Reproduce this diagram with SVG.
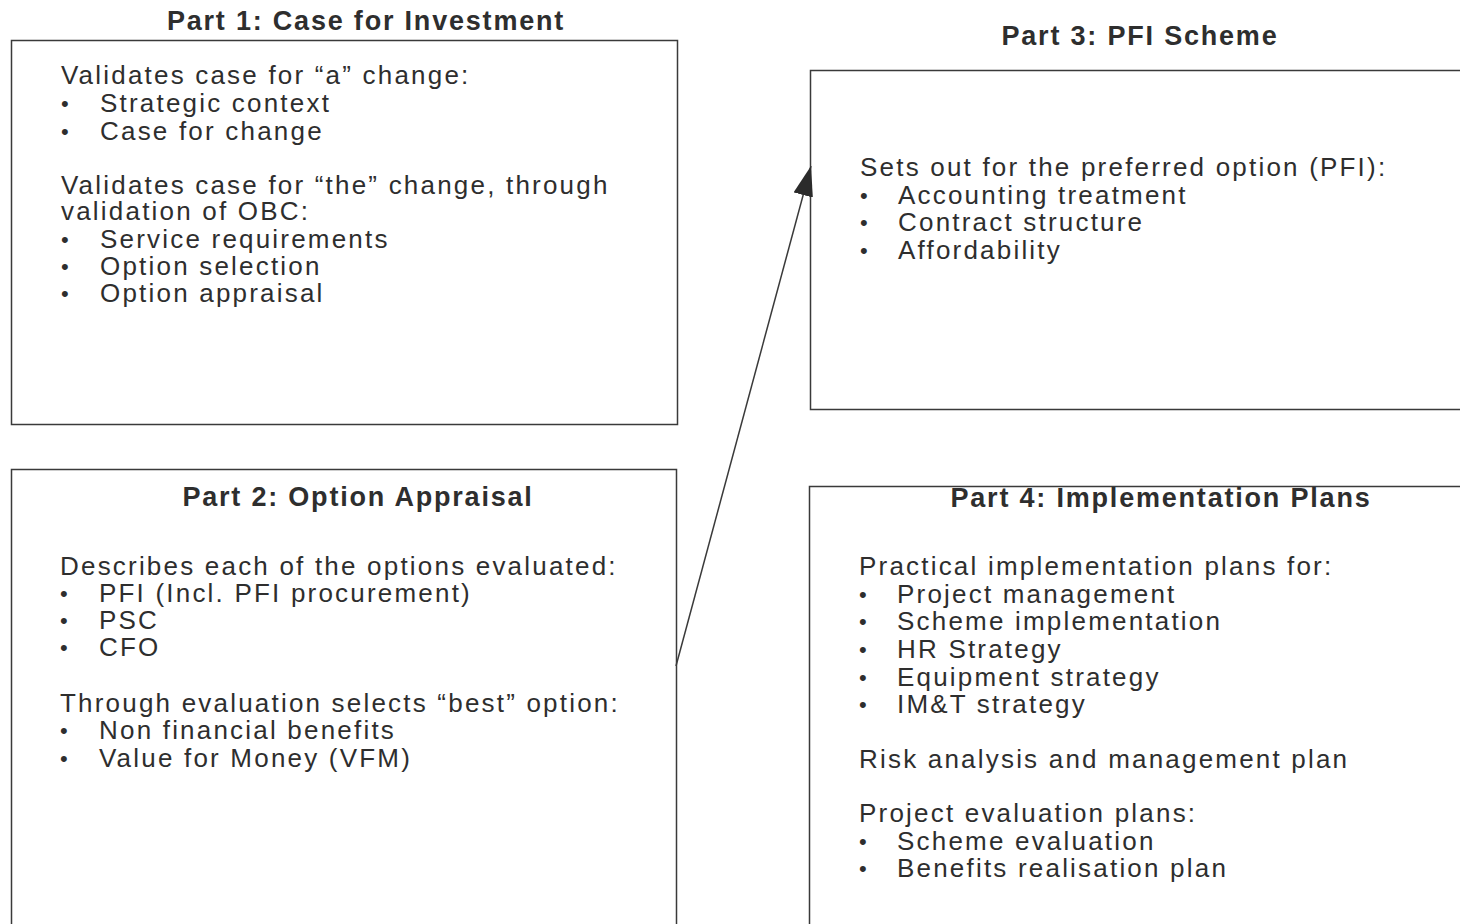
<svg xmlns="http://www.w3.org/2000/svg" width="1460" height="924" viewBox="0 0 1460 924">
<style>
.box{fill:none;stroke:#3a3a3a;stroke-width:1.5}
.t{font-family:"Liberation Sans",Arial,sans-serif;font-size:26px;fill:#2e2e2e;letter-spacing:2.2px}
.h{font-family:"Liberation Sans",Arial,sans-serif;font-size:27px;font-weight:bold;fill:#2e2e2e;letter-spacing:1.8px;text-anchor:middle}
.b{font-family:"Liberation Sans",Arial,sans-serif;font-size:22px;fill:#2e2e2e}
.conn{stroke:#3a3a3a;stroke-width:1.5;fill:none}
</style>
<defs>
<marker id="arr" viewBox="0 0 30 20" refX="30" refY="10" markerWidth="30" markerHeight="20" markerUnits="userSpaceOnUse" orient="auto">
<path d="M0,0 L30,10 L0,20 z" fill="#2b2b2b"/>
</marker>
</defs>
<rect width="1460" height="924" fill="#ffffff"/>

<g id="part1">
<rect class="box" x="11.5" y="40.5" width="666" height="384"/>
<text class="h" x="366" y="30">Part 1: Case for Investment</text>
<text class="t" x="61" y="84">Validates case for “a” change:</text>
<text class="b" x="61" y="111">•</text><text class="t" x="100" y="112">Strategic context</text>
<text class="b" x="61" y="139">•</text><text class="t" x="100" y="140">Case for change</text>
<text class="t" x="61" y="194">Validates case for “the” change, through</text>
<text class="t" x="61" y="220">validation of OBC:</text>
<text class="b" x="61" y="247">•</text><text class="t" x="100" y="248">Service requirements</text>
<text class="b" x="61" y="274">•</text><text class="t" x="100" y="275">Option selection</text>
<text class="b" x="61" y="301">•</text><text class="t" x="100" y="302">Option appraisal</text>
</g>

<g id="part2">
<path class="box" d="M11.5,930 V469.5 H676.5 V930"/>
<text class="h" x="358" y="506">Part 2: Option Appraisal</text>
<text class="t" x="60" y="575">Describes each of the options evaluated:</text>
<text class="b" x="60" y="601">•</text><text class="t" x="99" y="602">PFI (Incl. PFI procurement)</text>
<text class="b" x="60" y="628">•</text><text class="t" x="99" y="629">PSC</text>
<text class="b" x="60" y="655">•</text><text class="t" x="99" y="656">CFO</text>
<text class="t" x="60" y="712">Through evaluation selects “best” option:</text>
<text class="b" x="60" y="738">•</text><text class="t" x="99" y="739">Non financial benefits</text>
<text class="b" x="60" y="766">•</text><text class="t" x="99" y="767">Value for Money (VFM)</text>
</g>

<g id="part3">
<path class="box" d="M1470,70.5 H810.5 V409.5 H1470"/>
<text class="h" x="1140" y="45">Part 3: PFI Scheme</text>
<text class="t" x="860" y="176">Sets out for the preferred option (PFI):</text>
<text class="b" x="860" y="203">•</text><text class="t" x="898" y="204">Accounting treatment</text>
<text class="b" x="860" y="230">•</text><text class="t" x="898" y="231">Contract structure</text>
<text class="b" x="860" y="258">•</text><text class="t" x="898" y="259">Affordability</text>
</g>

<g id="part4">
<path class="box" d="M809.5,930 V486.5 H1470"/>
<text class="h" x="1161" y="507">Part 4: Implementation Plans</text>
<text class="t" x="859" y="575">Practical implementation plans for:</text>
<text class="b" x="859" y="602">•</text><text class="t" x="897" y="603">Project management</text>
<text class="b" x="859" y="629">•</text><text class="t" x="897" y="630">Scheme implementation</text>
<text class="b" x="859" y="657">•</text><text class="t" x="897" y="658">HR Strategy</text>
<text class="b" x="859" y="685">•</text><text class="t" x="897" y="686">Equipment strategy</text>
<text class="b" x="859" y="712">•</text><text class="t" x="897" y="713">IM&amp;T strategy</text>
<text class="t" x="859" y="768">Risk analysis and management plan</text>
<text class="t" x="859" y="822">Project evaluation plans:</text>
<text class="b" x="859" y="849">•</text><text class="t" x="897" y="850">Scheme evaluation</text>
<text class="b" x="859" y="876">•</text><text class="t" x="897" y="877">Benefits realisation plan</text>
</g>

<g id="connectors">
<path class="conn" d="M676,666 L811,166" marker-end="url(#arr)"/>
</g>
</svg>
